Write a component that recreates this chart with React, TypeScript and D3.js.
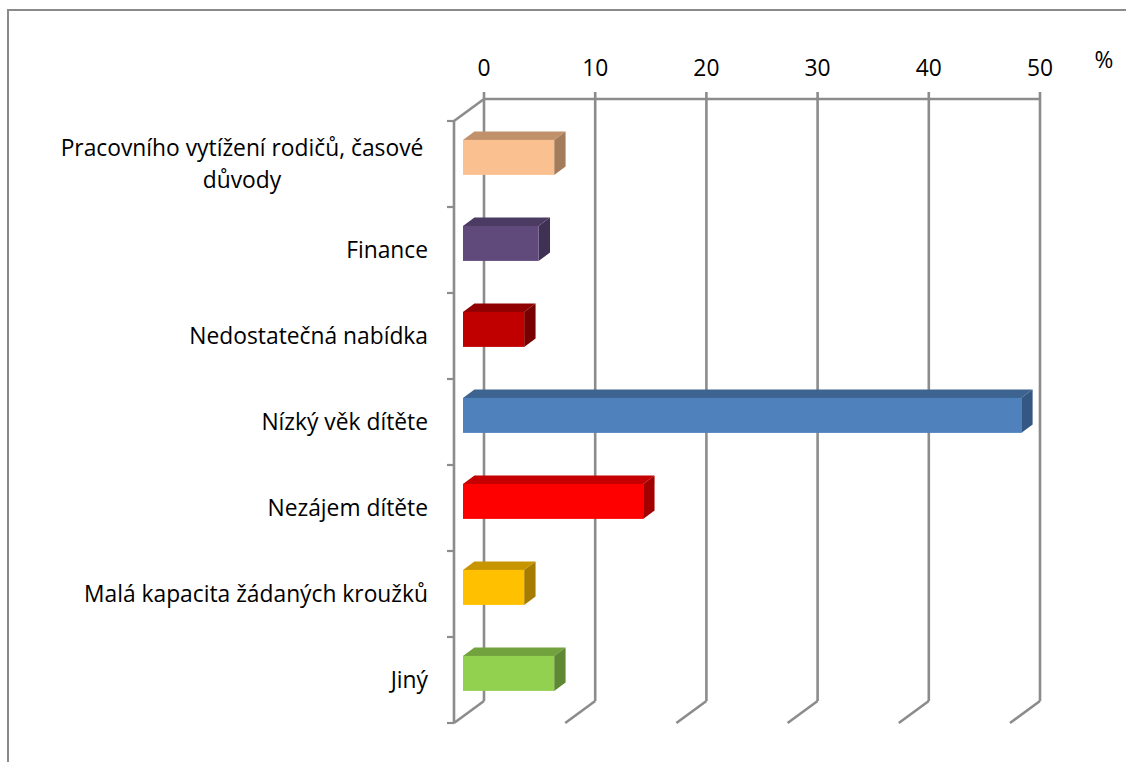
import React from "react";
import * as d3 from "d3";

const categories = [
  "Pracovního vytížení rodičů, časové důvody",
  "Finance",
  "Nedostatečná nabídka",
  "Nízký věk dítěte",
  "Nezájem dítěte",
  "Malá kapacita žádaných kroužků",
  "Jiný",
];
const labelLines = [
  ["Pracovního vytížení rodičů, časové", "důvody"],
  ["Finance"],
  ["Nedostatečná nabídka"],
  ["Nízký věk dítěte"],
  ["Nezájem dítěte"],
  ["Malá kapacita žádaných kroužků"],
  ["Jiný"],
];
const values = [8.2, 6.8, 5.5, 50.2, 16.2, 5.5, 8.2];
const frontColors = ["#FAC090", "#604A7B", "#C00000", "#4F81BD", "#FF0000", "#FFC000", "#92D050"];
const topColors = ["#C0916A", "#4B3A62", "#900000", "#3D6491", "#C40000", "#C79500", "#71A23E"];
const sideColors = ["#A37C5C", "#3F3154", "#780000", "#345783", "#A30000", "#A67C00", "#5F8834"];
const ticks = [0, 10, 20, 30, 40, 50];
const unitLabel = "%";

const FONT = "'Open Sans', 'Noto Sans', sans-serif";
const GRID = "#8C8C8C";

export default function App() {
  const frontLeft = 454;
  const depthX = 30;
  const depthY = -22;
  const x = d3.scaleLinear().domain([0, 50]).range([frontLeft, frontLeft + 556]);
  const y = d3.scaleBand<string>().domain(categories).range([121, 723]).paddingInner(0).paddingOuter(0);
  const yTop = 121;
  const yBot = 723;

  const barH = 35;
  const d0 = 0.3;
  const d1 = 0.68;
  const fs = 22.8;

  return (
    <svg width={1126} height={762} style={{ position: "absolute", left: 0, top: 0 }}>
      <rect x={0} y={0} width={1126} height={762} fill="#fff" />
      <rect x={8} y={10} width={1200} height={800} fill="none" stroke="#8a8a8a" strokeWidth={2} />

      {/* back wall gridlines */}
      <line x1={x(0) + depthX} x2={x(50) + depthX} y1={yTop + depthY} y2={yTop + depthY} stroke={GRID} strokeWidth={2.6} />
      {ticks.map((t) => (
        <g key={t}>
          <line x1={x(t) + depthX} x2={x(t) + depthX} y1={yTop + depthY - 7} y2={yBot + depthY} stroke={GRID} strokeWidth={2.6} />
          <line x1={x(t) + depthX} x2={x(t)} y1={yBot + depthY} y2={yBot} stroke={GRID} strokeWidth={2.6} />
          <text x={x(t) + depthX} y={76} textAnchor="middle" fontFamily={FONT} fontSize={fs} fill="#000">
            {t}
          </text>
        </g>
      ))}
      <text x={1104} y={68} textAnchor="middle" fontFamily={FONT} fontSize={fs} fill="#000">
        {unitLabel}
      </text>

      {/* left axis */}
      <line x1={frontLeft} x2={frontLeft} y1={yTop} y2={yBot} stroke={GRID} strokeWidth={2.6} />
      <line x1={frontLeft} x2={frontLeft + depthX} y1={yTop} y2={yTop + depthY} stroke={GRID} strokeWidth={2.6} />
      {[...categories.map((c) => y(c) as number), yBot].map((v, i) => (
        <line key={i} x1={frontLeft - 7} x2={frontLeft} y1={v} y2={v} stroke={GRID} strokeWidth={2.2} />
      ))}

      {/* bars */}
      {categories.map((c, i) => {
        const bandMid = (y(c) as number) + y.bandwidth() / 2;
        const fx0 = x(0) + depthX * d0;
        const fx1 = x(values[i]) + depthX * d0;
        const fyT = bandMid - barH / 2 + depthY * d0;
        const fyB = bandMid + barH / 2 + depthY * d0;
        const ddx = depthX * (d1 - d0);
        const ddy = depthY * (d1 - d0);
        return (
          <g key={c}>
            <polygon
              points={`${fx0},${fyT} ${fx1},${fyT} ${fx1 + ddx},${fyT + ddy} ${fx0 + ddx},${fyT + ddy}`}
              fill={topColors[i]}
            />
            <polygon
              points={`${fx1},${fyT} ${fx1 + ddx},${fyT + ddy} ${fx1 + ddx},${fyB + ddy} ${fx1},${fyB}`}
              fill={sideColors[i]}
            />
            <rect x={fx0} y={fyT} width={fx1 - fx0} height={fyB - fyT} fill={frontColors[i]} />
          </g>
        );
      })}

      {/* labels */}
      {categories.map((c, i) => {
        const mid = (y(c) as number) + y.bandwidth() / 2;
        const lines = labelLines[i];
        const lh = 32;
        const start = mid - ((lines.length - 1) * lh) / 2;
        const multi = lines.length > 1;
        return (
          <text
            key={c}
            textAnchor={multi ? "middle" : "end"}
            fontFamily={FONT}
            fontSize={fs}
            fill="#000"
          >
            {lines.map((l, j) => (
              <tspan key={j} x={multi ? 242 : 428} y={start + j * lh + 8}>
                {l}
              </tspan>
            ))}
          </text>
        );
      })}
    </svg>
  );
}
